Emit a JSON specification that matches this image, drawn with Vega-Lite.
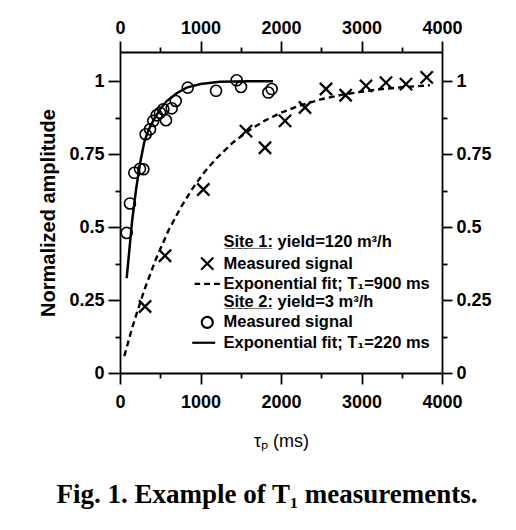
{
  "$schema": "https://vega.github.io/schema/vega-lite/v6.json",
  "width": 322,
  "height": 321,
  "autosize": {"type": "none"},
  "padding": {"left": 120, "top": 52, "right": 74, "bottom": 157},
  "background": "white",
  "title": {"text": "Fig. 1. Example of T₁ measurements.", "orient": "bottom", "font": "Liberation Serif", "fontWeight": "bold", "fontSize": 27, "color": "black", "offset": 32, "dx": -14},
  "config": {
    "view": {"stroke": null},
    "font": "Liberation Sans",
    "axis": {"grid": false, "domainColor": "black", "domainWidth": 1.8, "tickColor": "black", "tickWidth": 1.8, "labelColor": "black", "labelFont": "Liberation Sans", "labelFontSize": 18, "labelFontWeight": "bold", "labelFlush": false, "labelOverlap": false, "labelBound": false, "titleColor": "black", "titleFont": "Liberation Sans", "titleFontWeight": "bold"}
  },
  "datasets": {
    "site1": [
      {"t": 311, "amp": 0.228, "series": "Site 1 measured"},
      {"t": 559, "amp": 0.402, "series": "Site 1 measured"},
      {"t": 1035, "amp": 0.629, "series": "Site 1 measured"},
      {"t": 1565, "amp": 0.829, "series": "Site 1 measured"},
      {"t": 1801, "amp": 0.772, "series": "Site 1 measured"},
      {"t": 2050, "amp": 0.864, "series": "Site 1 measured"},
      {"t": 2298, "amp": 0.91, "series": "Site 1 measured"},
      {"t": 2559, "amp": 0.973, "series": "Site 1 measured"},
      {"t": 2803, "amp": 0.952, "series": "Site 1 measured"},
      {"t": 3056, "amp": 0.984, "series": "Site 1 measured"},
      {"t": 3304, "amp": 0.995, "series": "Site 1 measured"},
      {"t": 3553, "amp": 0.99, "series": "Site 1 measured"},
      {"t": 3810, "amp": 1.013, "series": "Site 1 measured"}
    ],
    "fit1": [
      {"t": 54, "amp": 0.058}, {"t": 150, "amp": 0.154}, {"t": 300, "amp": 0.283},
      {"t": 450, "amp": 0.393}, {"t": 600, "amp": 0.487}, {"t": 750, "amp": 0.565},
      {"t": 900, "amp": 0.632}, {"t": 1050, "amp": 0.689}, {"t": 1200, "amp": 0.736},
      {"t": 1400, "amp": 0.789}, {"t": 1600, "amp": 0.831}, {"t": 1800, "amp": 0.865},
      {"t": 2000, "amp": 0.892}, {"t": 2250, "amp": 0.918}, {"t": 2500, "amp": 0.938},
      {"t": 2750, "amp": 0.953}, {"t": 3000, "amp": 0.964}, {"t": 3250, "amp": 0.973},
      {"t": 3500, "amp": 0.979}, {"t": 3850, "amp": 0.986}
    ],
    "site2": [
      {"t": 83, "amp": 0.48, "series": "Site 2 measured"},
      {"t": 124, "amp": 0.581, "series": "Site 2 measured"},
      {"t": 178, "amp": 0.686, "series": "Site 2 measured"},
      {"t": 248, "amp": 0.7, "series": "Site 2 measured"},
      {"t": 290, "amp": 0.698, "series": "Site 2 measured"},
      {"t": 319, "amp": 0.818, "series": "Site 2 measured"},
      {"t": 373, "amp": 0.835, "series": "Site 2 measured"},
      {"t": 414, "amp": 0.864, "series": "Site 2 measured"},
      {"t": 456, "amp": 0.883, "series": "Site 2 measured"},
      {"t": 497, "amp": 0.892, "series": "Site 2 measured"},
      {"t": 538, "amp": 0.904, "series": "Site 2 measured"},
      {"t": 571, "amp": 0.866, "series": "Site 2 measured"},
      {"t": 642, "amp": 0.907, "series": "Site 2 measured"},
      {"t": 692, "amp": 0.932, "series": "Site 2 measured"},
      {"t": 842, "amp": 0.978, "series": "Site 2 measured"},
      {"t": 1193, "amp": 0.967, "series": "Site 2 measured"},
      {"t": 1449, "amp": 1.003, "series": "Site 2 measured"},
      {"t": 1503, "amp": 0.98, "series": "Site 2 measured"},
      {"t": 1843, "amp": 0.961, "series": "Site 2 measured"},
      {"t": 1884, "amp": 0.973, "series": "Site 2 measured"}
    ],
    "fit2": [
      {"t": 83, "amp": 0.325}, {"t": 150, "amp": 0.52}, {"t": 200, "amp": 0.63},
      {"t": 250, "amp": 0.72}, {"t": 300, "amp": 0.79}, {"t": 350, "amp": 0.83},
      {"t": 414, "amp": 0.865}, {"t": 500, "amp": 0.905}, {"t": 580, "amp": 0.932},
      {"t": 700, "amp": 0.958}, {"t": 828, "amp": 0.978}, {"t": 1000, "amp": 0.99},
      {"t": 1242, "amp": 0.998}, {"t": 1600, "amp": 1.0}, {"t": 1900, "amp": 1.0}
    ]
  },
  "resolve": {"axis": {"x": "independent", "y": "independent"}},
  "layer": [
    {
      "data": {"name": "site1"},
      "mark": {"type": "point", "filled": false, "strokeWidth": 2.3, "size": 150, "color": "black", "opacity": 1},
      "encoding": {
        "x": {"field": "t", "type": "quantitative", "scale": {"domain": [0, 4000], "nice": false},
          "axis": {"orient": "bottom", "values": [0, 500, 1000, 1500, 2000, 2500, 3000, 3500, 4000], "format": "d",
            "labelExpr": "datum.value % 1000 == 0 ? datum.label : ''",
            "tickSize": {"condition": {"test": "datum.value % 1000 == 0", "value": 11}, "value": 5},
            "labelPadding": 9, "title": "τₚ (ms)", "titleFontSize": 18, "titleFontWeight": "normal", "titlePadding": 21}},
        "y": {"field": "amp", "type": "quantitative", "scale": {"domain": [0, 1.1], "nice": false},
          "axis": {"orient": "left", "values": [0, 0.125, 0.25, 0.375, 0.5, 0.625, 0.75, 0.875, 1], "format": "~g",
            "labelExpr": "(datum.value * 4) % 1 == 0 ? datum.label : ''",
            "tickSize": {"condition": {"test": "(datum.value * 4) % 1 == 0", "value": 12}, "value": 5},
            "labelPadding": 4, "title": "Normalized amplitude", "titleFontSize": 20, "titlePadding": 10}},
        "shape": {"field": "series", "type": "nominal",
          "scale": {"domain": ["Site 1", "Site 1 measured", "Site 1 fit", "Site 2", "Site 2 measured", "Site 2 fit"],
            "range": ["M0,0", "M-1,-1L1,1M1,-1L-1,1", "M-2.05,0L-1.15,0M-0.5,0L0.45,0M1.1,0L2.05,0", "M0,0", "M-0.9,0A0.9,0.9,0,1,1,0.9,0A0.9,0.9,0,1,1,-0.9,0Z", "M-2.45,0L1.3,0"]},
          "legend": {"title": null, "orient": "none", "legendX": 79, "legendY": 182, "padding": 0,
            "labelFont": "Liberation Sans", "labelFontSize": 16.5, "labelFontWeight": "bold", "labelColor": "black", "labelOffset": 8, "labelLimit": 0, "rowPadding": 1.3,
            "symbolSize": 150, "symbolStrokeColor": "black", "symbolStrokeWidth": 2.2, "symbolFillColor": "transparent", "symbolOpacity": 1,
            "labelExpr": "datum.label == 'Site 1' ? 'S̲i̲t̲e̲ ̲1̲: yield=120 m³/h' : datum.label == 'Site 2' ? 'S̲i̲t̲e̲ ̲2̲: yield=3 m³/h' : datum.label == 'Site 1 fit' ? 'Exponential fit; T₁=900 ms' : datum.label == 'Site 2 fit' ? 'Exponential fit; T₁=220 ms' : 'Measured signal'"}}
      }
    },
    {
      "data": {"name": "fit1"},
      "mark": {"type": "line", "color": "black", "strokeWidth": 2.4, "strokeDash": [6, 4]},
      "encoding": {
        "x": {"field": "t", "type": "quantitative", "scale": {"domain": [0, 4000], "nice": false},
          "axis": {"orient": "top", "values": [0, 500, 1000, 1500, 2000, 2500, 3000, 3500, 4000], "format": "d",
            "labelExpr": "datum.value % 1000 == 0 ? datum.label : ''",
            "tickSize": {"condition": {"test": "datum.value % 1000 == 0", "value": 11}, "value": 5},
            "labelPadding": 4, "title": null}},
        "y": {"field": "amp", "type": "quantitative", "scale": {"domain": [0, 1.1], "nice": false},
          "axis": {"orient": "right", "values": [0, 0.125, 0.25, 0.375, 0.5, 0.625, 0.75, 0.875, 1], "format": "~g",
            "labelExpr": "(datum.value * 4) % 1 == 0 ? datum.label : ''",
            "tickSize": {"condition": {"test": "(datum.value * 4) % 1 == 0", "value": 10}, "value": 5},
            "labelPadding": 4, "title": null}}
      }
    },
    {
      "data": {"name": "site2"},
      "mark": {"type": "point", "filled": false, "strokeWidth": 1.6, "size": 150, "color": "black", "opacity": 1},
      "encoding": {
        "x": {"field": "t", "type": "quantitative", "axis": null},
        "y": {"field": "amp", "type": "quantitative", "axis": null},
        "shape": {"field": "series", "type": "nominal",
          "scale": {"domain": ["Site 1", "Site 1 measured", "Site 1 fit", "Site 2", "Site 2 measured", "Site 2 fit"],
            "range": ["M0,0", "M-1,-1L1,1M1,-1L-1,1", "M-2.05,0L-1.15,0M-0.5,0L0.45,0M1.1,0L2.05,0", "M0,0", "M-0.9,0A0.9,0.9,0,1,1,0.9,0A0.9,0.9,0,1,1,-0.9,0Z", "M-2.45,0L1.3,0"]},
          "legend": {"title": null, "orient": "none", "legendX": 79, "legendY": 182, "padding": 0,
            "labelFont": "Liberation Sans", "labelFontSize": 16.5, "labelFontWeight": "bold", "labelColor": "black", "labelOffset": 8, "labelLimit": 0, "rowPadding": 1.3,
            "symbolSize": 150, "symbolStrokeColor": "black", "symbolStrokeWidth": 2.2, "symbolFillColor": "transparent", "symbolOpacity": 1,
            "labelExpr": "datum.label == 'Site 1' ? 'S̲i̲t̲e̲ ̲1̲: yield=120 m³/h' : datum.label == 'Site 2' ? 'S̲i̲t̲e̲ ̲2̲: yield=3 m³/h' : datum.label == 'Site 1 fit' ? 'Exponential fit; T₁=900 ms' : datum.label == 'Site 2 fit' ? 'Exponential fit; T₁=220 ms' : 'Measured signal'"}}
      }
    },
    {
      "data": {"name": "fit2"},
      "mark": {"type": "line", "color": "black", "strokeWidth": 2.5},
      "encoding": {
        "x": {"field": "t", "type": "quantitative", "axis": null},
        "y": {"field": "amp", "type": "quantitative", "axis": null}
      }
    }
  ]
}
